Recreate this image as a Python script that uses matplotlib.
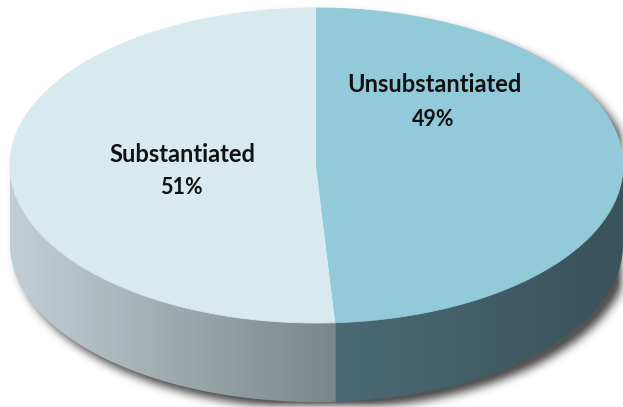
import numpy as np
import matplotlib
matplotlib.use("Agg")
from matplotlib import pyplot as plt
from matplotlib.patches import Polygon

# data
labels = ["Substantiated", "Unsubstantiated"]
shares = [51, 49]
top_colors = ["#d8eaf0", "#92cad9"]
side_colors = [("#c2d0d5", "#79868a"), ("#4b6a75", "#3a5259")]

# geometry of the disc in pixel units
W, H = 623, 407
cx, cy = 316.5, 165.5
a, b = 306.5, 157.5
depth = 79
start = 90.0


def rim(theta, drop=0.0):
    t = np.radians(theta)
    return cx + a * np.cos(t), cy - b * np.sin(t) + drop


fig = plt.figure(figsize=(W / 100, H / 100), dpi=100)
ax = fig.add_axes([0, 0, 1, 1])
ax.set_xlim(0, W)
ax.set_ylim(H, 0)
ax.axis("off")

# soft drop shadow of the whole disc
yy, xx = np.mgrid[0:H, 0:W] + 0.5
sx, sy = 7, 7
u = (xx - cx - sx) / a
inside = np.abs(u) <= 1
half = b * np.sqrt(np.clip(1 - u ** 2, 0, None))
mask = inside & (yy >= cy + sy - half) & (yy <= cy + sy + depth + half)
mask = mask.astype(float)
k = np.ones(9) / 9
for _ in range(3):
    mask = np.apply_along_axis(lambda r: np.convolve(r, k, mode="same"), 1, mask)
    mask = np.apply_along_axis(lambda c: np.convolve(c, k, mode="same"), 0, mask)
shadow = np.zeros((H, W, 4))
shadow[..., :3] = 0.33
shadow[..., 3] = np.clip(mask * 1.1, 0, 1)
ax.imshow(shadow, extent=(0, W, H, 0), zorder=1, interpolation="bilinear")

# angular spans of each slice
total = sum(shares)
bounds = [start]
for s in shares:
    bounds.append(bounds[-1] + 360.0 * s / total)

# sides (only the front half, 180..360 degrees, is visible)
for i in range(len(shares)):
    t0, t1 = max(bounds[i], 180), min(bounds[i + 1], 360)
    if t0 >= t1:
        continue
    th = np.linspace(t0, t1, 200)
    x_top, y_top = rim(th)
    x_bot, y_bot = rim(th[::-1], depth)
    poly = Polygon(np.column_stack([np.r_[x_top, x_bot], np.r_[y_top, y_bot]]),
                   closed=True, facecolor="none", edgecolor="none", zorder=2)
    ax.add_patch(poly)
    c0 = np.array(matplotlib.colors.to_rgb(side_colors[i][0]))
    c1 = np.array(matplotlib.colors.to_rgb(side_colors[i][1]))
    f = np.linspace(0, 1, 256)[None, :, None]
    grad = c0 + (c1 - c0) * f
    x0, x1 = x_top.min(), x_top.max()
    img = ax.imshow(grad, extent=(x0, x1, y_bot.max() + 2, y_top.min() - 2),
                    aspect="auto", zorder=2, interpolation="bilinear")
    img.set_clip_path(poly)

# top faces
for i in range(len(shares)):
    th = np.linspace(bounds[i], bounds[i + 1], 300)
    x_e, y_e = rim(th)
    ax.fill(np.r_[cx, x_e], np.r_[cy, y_e], color=top_colors[i],
            lw=0.6, ec=top_colors[i], zorder=3)

# labels
font = ["Lato", "DejaVu Sans"]
style = dict(ha="center", va="center", fontweight="bold",
             family=font, color="#111111", zorder=4)
ax.text(182, 155, labels[0], fontsize=17, **style)
ax.text(181, 188, f"{shares[0]}%", fontsize=15.5, **style)
ax.text(434, 85, labels[1], fontsize=17, **style)
ax.text(433, 119, f"{shares[1]}%", fontsize=15.5, **style)

fig.savefig("out.png", dpi=100)
